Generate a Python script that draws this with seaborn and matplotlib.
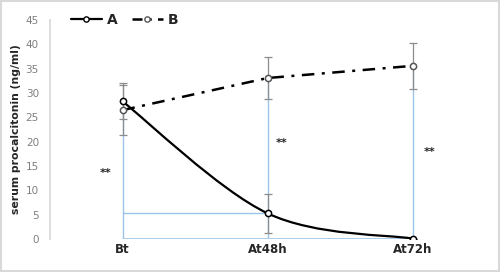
import numpy as np
import pandas as pd
import matplotlib.pyplot as plt
import seaborn as sns
from matplotlib.path import Path
from matplotlib.patches import PathPatch
from matplotlib.lines import Line2D

# values
times = ['Bt', 'At48h', 'At72h']
a_mean = [28.3, 5.3, 0.1]
a_err = [3.7, 4.0, 0.0]
b_mean = [26.5, 33.1, 35.6]
b_err = [5.2, 4.3, 4.7]
star_pos = [(-0.12, 13.5), (1.1, 19.7), (2.12, 18.0)]

sns.set_theme(style='white')
plt.rcParams['font.family'] = ['DejaVu Sans']

df = pd.DataFrame({'time': times, 'x': range(len(times)), 'A': a_mean, 'B': b_mean})

fig = plt.figure(figsize=(5, 2.72), dpi=100)
ax = fig.add_axes([0.1, 0.121, 0.87, 0.805])

# light blue drop lines
blue = '#9DC3E6'
ax.vlines([0], 0, a_mean[0], color=blue, lw=1, zorder=1)
ax.vlines([1, 2], 0, b_mean[1:], color=blue, lw=1, zorder=1)
ax.hlines(a_mean[1], 0, 1, color=blue, lw=1, zorder=1)
ax.hlines(0, 0, 2, color=blue, lw=1.2, zorder=1)

# error bars
ax.errorbar(df['x'], df['A'], yerr=a_err, fmt='none', ecolor='#8c8c8c', elinewidth=0.9, capsize=3, capthick=0.9, zorder=2)
ax.errorbar(df['x'], df['B'], yerr=b_err, fmt='none', ecolor='#8c8c8c', elinewidth=0.9, capsize=3, capthick=0.9, zorder=2)

# smoothed line for A (bezier through the points, like excel)
pts = np.column_stack([df['x'], df['A']]).astype(float)
verts = [pts[0]]
codes = [Path.MOVETO]
for i in range(len(pts) - 1):
    p0 = pts[i - 1] if i > 0 else pts[i]
    p1, p2 = pts[i], pts[i + 1]
    p3 = pts[i + 2] if i + 2 < len(pts) else pts[i + 1]
    verts += [p1 + (p2 - p0) / 6, p2 - (p3 - p1) / 6, p2]
    codes += [Path.CURVE4] * 3
ax.add_patch(PathPatch(Path(verts, codes), fill=False, edgecolor='black', lw=1.6, zorder=3))

# B dash-dot line
sns.lineplot(data=df, x='x', y='B', ax=ax, color='black', lw=1.8, zorder=3)
ax.lines[-1].set_dashes([5, 3, 1.2, 3])

# markers
sns.scatterplot(data=df, x='x', y='A', ax=ax, marker='o', s=20, facecolor='white', edgecolor='black', linewidth=1.1, zorder=4)
sns.scatterplot(data=df, x='x', y='B', ax=ax, marker='o', s=20, facecolor='white', edgecolor='#555555', linewidth=1.1, zorder=4)

for sx, sy in star_pos:
    ax.text(sx, sy, '**', fontsize=8, fontweight='bold', ha='center', va='center', color='#222222')

ax.set_xlim(-0.5, 2.5)
ax.set_ylim(0, 45)
ax.set_yticks(range(0, 46, 5))
ax.set_xticks(df['x'])
ax.set_xticklabels(times, fontsize=8.5, fontweight='bold')
ax.tick_params(axis='y', labelsize=7.5, labelcolor='#7f7f7f', length=0, pad=8)
ax.tick_params(axis='x', length=0, pad=3)
ax.set_xlabel('')
ax.set_ylabel('serum procalcitonin (ng/ml)', fontsize=7.8, fontweight='bold', labelpad=3)
for s in ['top', 'right', 'bottom']:
    ax.spines[s].set_visible(False)
ax.spines['left'].set_color('#d9d9d9')

handles = [Line2D([], [], color='black', lw=1.6, marker='o', markersize=3.8, markerfacecolor='white'),
           Line2D([], [], color='black', lw=1.8, dashes=[4, 2.5, 1.2, 2.5], marker='o', markersize=3.8,
                  markerfacecolor='white', markeredgecolor='#555555')]
leg = ax.legend(handles, ['A', 'B'], ncol=2, frameon=False, loc='center left', bbox_to_anchor=(0.02, 1.0),
                handlelength=2.2, columnspacing=1.0, handletextpad=0.4, prop={'weight': 'bold', 'size': 10})

fig.patches.append(plt.Rectangle((0.002, 0.004), 0.996, 0.992, transform=fig.transFigure,
                                 fill=False, edgecolor='#d9d9d9', lw=1.5))
fig.savefig('out.png', dpi=100)
